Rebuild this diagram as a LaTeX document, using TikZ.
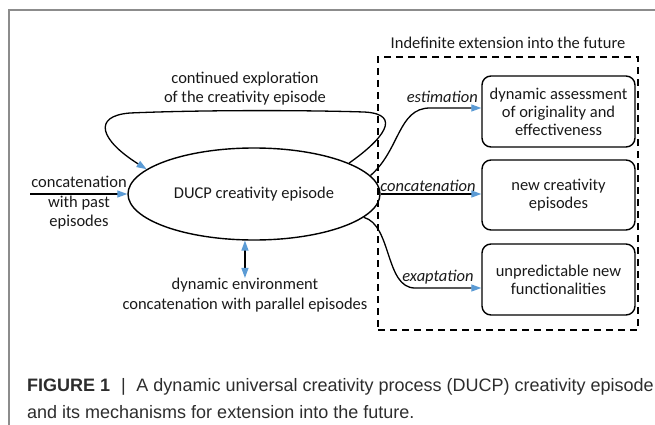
\documentclass[tikz,border=0pt]{standalone}
\usepackage{fontspec}
\setmainfont{Carlito}
\newfontfamily\capfont{Liberation Sans}
\usetikzlibrary{arrows.meta,shapes.geometric}
\definecolor{tipblue}{RGB}{91,155,213}
\definecolor{framegray}{RGB}{140,140,140}
\definecolor{captext}{RGB}{45,45,45}
\definecolor{ink}{RGB}{25,25,25}
\begin{document}
\begin{tikzpicture}[x=1pt,y=-1pt,
  lab/.style={font=\fontsize{16.5}{19.5}\selectfont, text=ink, align=center, inner sep=0pt},
  ilab/.style={font=\fontsize{16.5}{19.5}\selectfont\itshape, text=ink, align=center, inner sep=0pt},
  outbox/.style={draw, line width=1.4pt, rounded corners=9pt, minimum width=153pt, minimum height=71pt, align=center, inner sep=0pt, text=ink, font=\fontsize{16.5}{18}\selectfont},
  conn/.style={line width=1.3pt, -{Triangle[length=10pt,width=7pt,color=tipblue]}},
  capt/.style={anchor=base west, inner sep=0pt, text=captext, font=\capfont\fontsize{18}{27}\selectfont},
]
\useasboundingbox (0,0) rectangle (655,425);
\draw[framegray, line width=1.5pt] (9,425) -- (9,10) -- (655,10);

% main ellipse
\node[ellipse, draw, line width=1.4pt, minimum width=252pt, minimum height=92pt, inner sep=0pt, text=ink, font=\fontsize{16.5}{19.5}\selectfont] (ep) at (254,194) {DUCP creativity episode};

% future frame
\node[draw, line width=1.3pt, dash pattern=on 7pt off 5pt, minimum width=260pt, minimum height=273pt, inner sep=0pt] (fut) at (508,193.5) {};
\node[lab] (futt) at (508,43) {Indefinite extension into the future};

% outcome boxes
\node[outbox] (b1) at (558.5,111.5) {dynamic assessment\\of originality and\\effectiveness};
\node[outbox, minimum height=70pt] (b2) at (558.5,195) {new creativity\\episodes};
\node[outbox] (b3) at (558.5,279.5) {unpredictable new\\functionalities};

% loop
\node[lab] (loopl) at (245,88.5) {continued exploration\\of the creativity episode};
\draw[conn] (ep.18.4) .. controls (382,140) and (404,114) .. (364,112)
  .. controls (300,110) and (200,110) .. (130,113)
  .. controls (92,116) and (100,140) .. (ep.167.4);

% left input
\node[lab] (cwp) at (79,203) {concatenation\\with past\\episodes};
\coordinate (lin) at (30,194);
\draw[conn] (lin) -- (ep.west);

% bottom environment
\node[lab] (env) at (245,295) {dynamic environment\\concatenation with parallel episodes};
\draw[line width=1.3pt, {Triangle[length=10pt,width=7pt,color=tipblue]}-{Triangle[length=10pt,width=7pt,color=tipblue]}] (ep.259) -- (ep.259 |- env.north);

% outgoing arrows
\node[ilab, anchor=east] (est) at (478,97) {estimation};
\draw[conn] (ep.9.5) .. controls (400,150) and (398,108) .. (430,108) -- ([yshift=3.5pt]b1.west);

\node[ilab] (cat) at (428,186) {concatenation};
\draw[conn] (ep.east) -- (ep.east -| b2.west);

\node[ilab] (exa) at (438,277) {exaptation};
\draw[conn] (ep.-12) .. controls (392,225) and (385,288) .. (415,288) -- ([yshift=-8.5pt]b3.west);

% caption
\node[capt] (cap1) at (27,391) {\textbf{FIGURE 1}\hspace{0.6em}|\hspace{0.6em}A dynamic universal creativity process (DUCP) creativity episode};
\node[capt] (cap2) at (27,418) {and its mechanisms for extension into the future.};
\end{tikzpicture}
\end{document}
